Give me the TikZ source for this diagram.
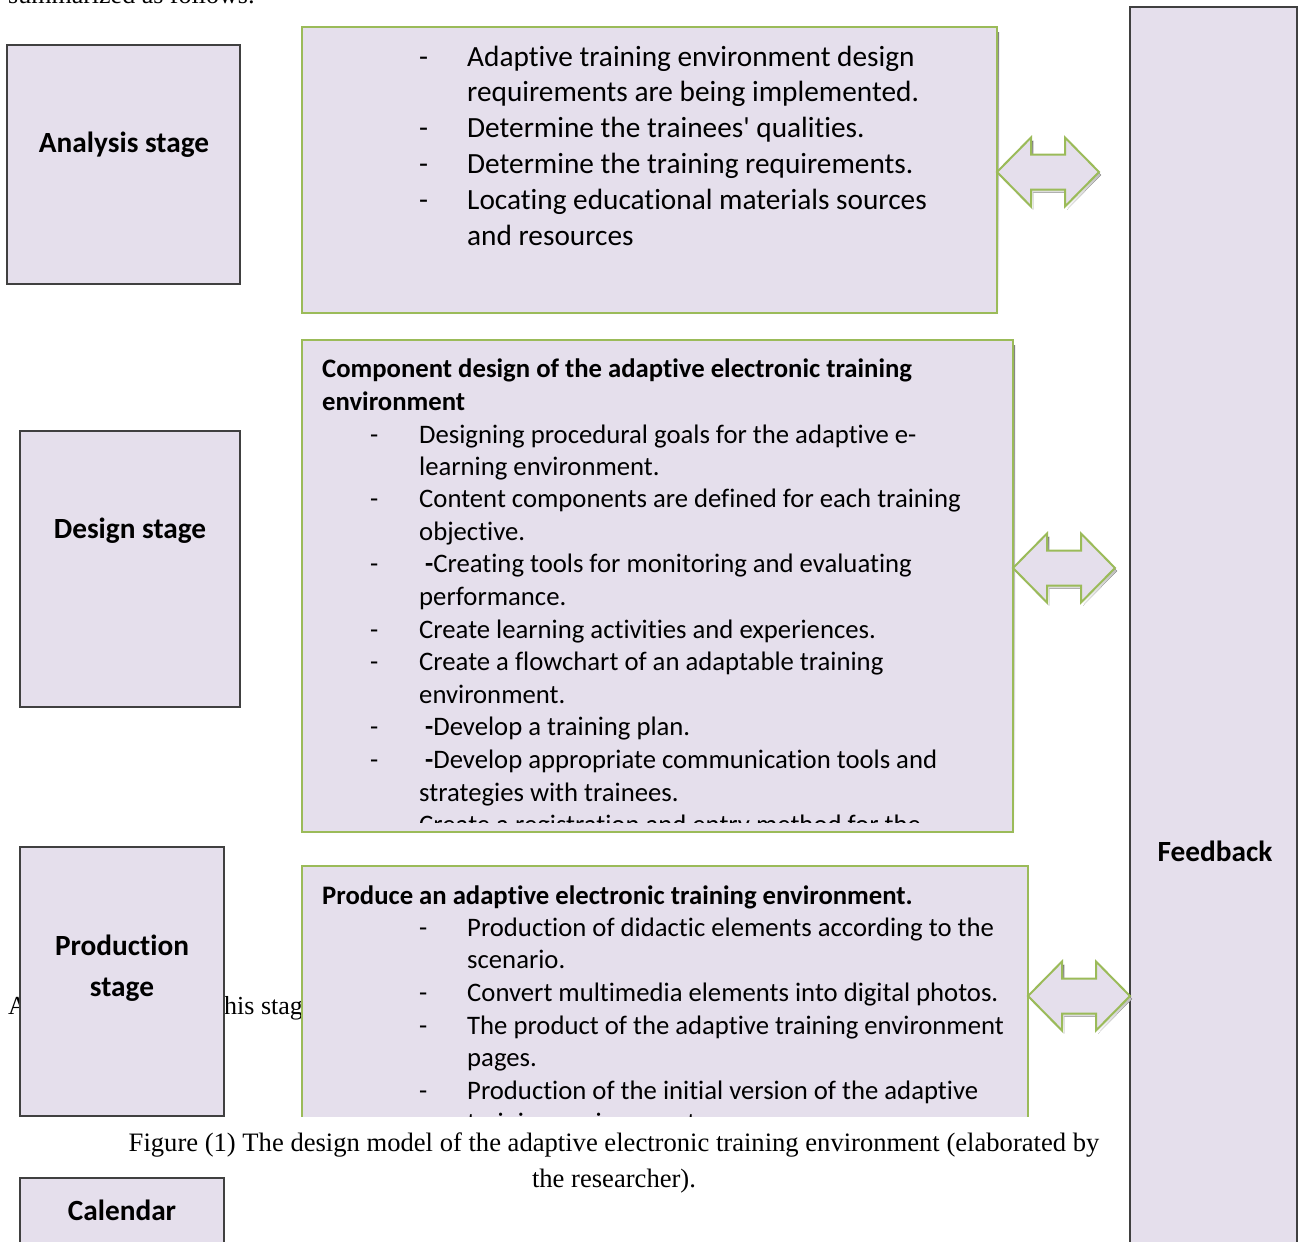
\documentclass[tikz,border=0pt]{standalone}
\usepackage{fontspec}
\setmainfont{Liberation Serif}
\newfontfamily\boxfont[Ligatures=NoCommon]{Carlito}
\usepackage{tikz}
\definecolor{lav}{HTML}{E5DFEC}
\definecolor{leaf}{HTML}{9BBB59}
\definecolor{shade}{HTML}{A6A6A6}
\definecolor{edge}{HTML}{404040}
\newcommand{\twowaypath}{(0,0)--(34,-34.5)--(34,-17.5)--(68,-17.5)--(68,-34.5)--(102,0)--(68,34.5)--(68,17.5)--(34,17.5)--(34,34.5)--cycle}
\newcommand{\twoway}[2]{%
  \fill[shade,shift={(#1+2,#2+3)}] \twowaypath;
  \filldraw[leaf,fill=lav,line width=2pt,shift={(#1,#2)}] \twowaypath;}

\begin{document}
\begin{tikzpicture}[x=1pt,y=-1pt,
    stagebox/.style={draw=edge,line width=1.5pt,fill=lav},
    greenbox/.style={draw=leaf,line width=2.5pt,fill=lav},
    stagetxt/.style={font=\boxfont\bfseries\fontsize{29.3}{41}\selectfont,align=center,inner sep=0pt},
    bigitem/.style={anchor=mid west,inner sep=0pt,yshift=-7.5pt,font=\boxfont\fontsize{29.3}{36}\selectfont},
    smallitem/.style={anchor=mid west,inner sep=0pt,yshift=-7pt,font=\boxfont\fontsize{26.7}{32.5}\selectfont},
    smallhead/.style={smallitem,font=\boxfont\bfseries\fontsize{26.7}{32.5}\selectfont},
    pagetxt/.style={anchor=base west,inner sep=0pt,font=\fontsize{26}{30}\selectfont}]
    \useasboundingbox (0,0) rectangle (1301,1242);
    \clip (0,0) rectangle (1301,1242);
    % page text behind the figure
    \node[pagetxt] (p0) at (8,3) {summarized as follows:};
    \node[pagetxt] (p1) at (8,1014) {A};
    \node[pagetxt] (p2) at (224,1014) {his stag};
    % feedback column
    \draw[stagebox,line width=2.5pt] (1130,7) rectangle (1297,1270);
    \node[stagetxt] (fb) at (1215,851) {Feedback};
    % stage boxes
    \draw[stagebox] (7,45) rectangle (240,284);
    \node[stagetxt] (ana) at (124,145) {Analysis stage};
    \draw[stagebox] (20,431) rectangle (240,707);
    \node[stagetxt] (des) at (130,531) {Design stage};
    \draw[stagebox] (20,847) rectangle (224,1116);
    \node[stagetxt] (pro) at (122,968.5) {Production\\stage};
    \draw[stagebox] (20,1178) rectangle (224,1270);
    \node[stagetxt] (cal) at (122,1210) {Calendar};
    % analysis box
    \fill[shade] (304,32) rectangle (999,318);
    \draw[greenbox] (302,27) rectangle (997,313);
    \foreach \y in {57,128,164,200}
      \node[bigitem] (ad\y) at (419,\y) {-};
    \foreach \y/\t [count=\i] in {57/Adaptive training environment design,
        92/requirements are being implemented.,
        128/Determine the trainees' qualities.,
        164/Determine the training requirements.,
        200/Locating educational materials sources,
        236/and resources}
      \node[bigitem] (a\i) at (467,\y) {\t};
    % design box
    \fill[shade] (304,345) rectangle (1015,837);
    \draw[greenbox] (302,340) rectangle (1013,832);
    \begin{scope}
      \clip (302,340) rectangle (1013,822);
      \node[smallhead] (dh1) at (322,368) {Component design of the adaptive electronic training};
      \node[smallhead] (dh2) at (322,401) {environment};
      \foreach \y in {434,498,563,629,661,726,759}
        \node[smallitem] (dd\y) at (370,\y) {-};
      \foreach \y/\t [count=\i] in {434/Designing procedural goals for the adaptive e-,
          466/learning environment.,
          498/Content components are defined for each training,
          531/objective.,
          596/performance.,
          629/Create learning activities and experiences.,
          661/Create a flowchart of an adaptable training,
          694/environment.,
          792/strategies with trainees.,
          824/Create a registration and entry method for the}
        \node[smallitem] (d\i) at (419,\y) {\t};
      \node[smallitem] (dx1) at (425,563) {\textbf{-}Creating tools for monitoring and evaluating};
      \node[smallitem] (dx2) at (425,726) {\textbf{-}Develop a training plan.};
      \node[smallitem] (dx3) at (425,759) {\textbf{-}Develop appropriate communication tools and};
    \end{scope}
    % production box (cut at the page edge)
    \begin{scope}
      \clip (280,850) rectangle (1045,1116);
      \draw[greenbox] (302,866) rectangle (1028,1150);
      \node[smallhead] (ph) at (322,895) {Produce an adaptive electronic training environment.};
      \foreach \y in {927,992,1025,1090}
        \node[smallitem] (pd\y) at (419,\y) {-};
      \foreach \y/\t [count=\i] in {927/Production of didactic elements according to the,
          959/scenario.,
          992/Convert multimedia elements into digital photos.,
          1025/The product of the adaptive training environment,
          1057/pages.,
          1090/Production of the initial version of the adaptive,
          1122/training environment.}
        \node[smallitem] (q\i) at (467,\y) {\t};
    \end{scope}
    % two-way arrows
    \twoway{997}{172}
    \twoway{1013}{568}
    \twoway{1028}{996}
    % caption
    \node[anchor=base,inner sep=0pt,font=\fontsize{26.6}{30}\selectfont] (cap1) at (614,1151)
      {Figure (1) The design model of the adaptive electronic training environment (elaborated by};
    \node[anchor=base,inner sep=0pt,font=\fontsize{26.6}{30}\selectfont] (cap2) at (614,1187)
      {the researcher).};
\end{tikzpicture}
\end{document}
